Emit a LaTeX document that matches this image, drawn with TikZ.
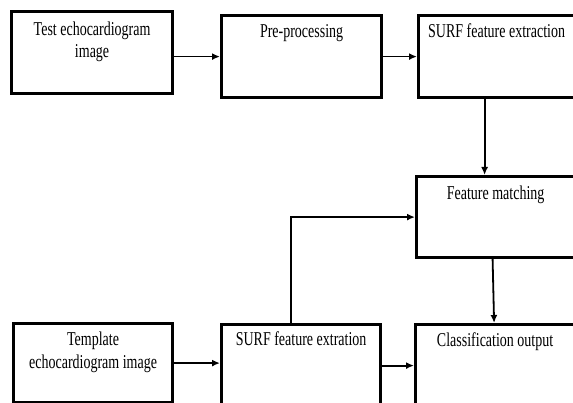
\documentclass[tikz,border=0pt]{standalone}
\usepackage{fontspec}
\setmainfont{Liberation Serif}
\usetikzlibrary{arrows.meta,positioning}

\begin{document}
\begin{tikzpicture}[
			x=1pt,y=-1pt,
			blk/.style={draw,line width=3.2pt,anchor=north west,inner sep=0pt},
			txt/.style={font=\fontsize{14}{16.4}\selectfont,align=center,anchor=base,yscale=1.4},
			flow/.style={-{Latex[length=8pt,width=7pt]},line width=1.8pt}
			]

			\clip (0,0) rectangle (573,403);

			% top row
			\node[blk,minimum width=161pt,minimum height=82pt] (test) at (10,10) {};
			\node[blk,minimum width=160pt,minimum height=82pt] (pre) at (220,14) {};
			\node[blk,minimum width=156pt,minimum height=82pt] (surf) at (417,14) {};

			% right column
			\node[blk,minimum width=158pt,minimum height=81pt] (match) at (415,175) {};

			% bottom row
			\node[blk,minimum width=159pt,minimum height=79pt] (tmpl) at (12,322) {};
			\node[blk,minimum width=159pt,minimum height=84pt] (ext) at (220,323) {};
			\node[blk,minimum width=159pt,minimum height=82pt] (cls) at (414,323) {};

			% labels (base = last line)
			\node[txt] (testlbl) at ([yshift=-48pt]test.north) {Test echocardiogram\\image};
			\node[txt] (prelbl) at ([yshift=-24pt]pre.north) {Pre-processing};
			\node[txt] (surflbl) at ([yshift=-24pt]surf.north) {SURF feature extraction};
			\node[txt] (matchlbl) at ([yshift=-25pt]match.north) {Feature matching};
			\node[txt] (tmpllbl) at ([yshift=-46pt]tmpl.north) {Template\\echocardiogram image};
			\node[txt] (extlbl) at ([yshift=-22pt]ext.north) {SURF feature extration};
			\node[txt] (clslbl) at ([yshift=-24pt]cls.north) {Classification output};

			\draw[flow] (test.east |- pre.west) -- (pre.west);
			\draw[flow] (pre.east) -- (surf.west);
			\draw[flow] ([xshift=-12pt]surf.south) -- ([xshift=-12pt]surf.south |- match.north);
			\draw[flow] ([xshift=-10pt]ext.north) |- (match.west);
			\draw[flow] ([xshift=-3pt]match.south) -- ([xshift=-1pt]cls.north);
			\draw[flow] (tmpl.east) -- (tmpl.east -| ext.west);
			\draw[flow] (ext.east |- cls.west) -- (cls.west);

\end{tikzpicture}
\end{document}
